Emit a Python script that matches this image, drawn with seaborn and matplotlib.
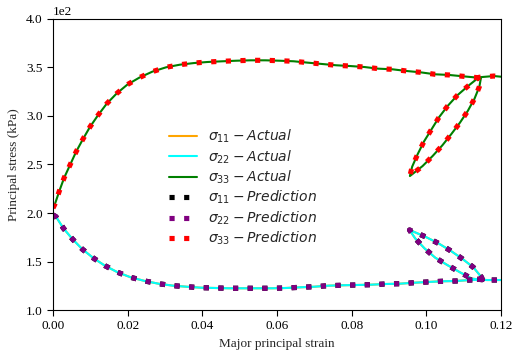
import numpy as np
import pandas as pd
import seaborn as sns
import matplotlib
matplotlib.use("Agg")
import matplotlib.pyplot as plt

# Major principal strain at which sigma_33 was recorded (loading, unload/reload loop, final loading)
strain_33 = [0.0000, 0.0005, 0.0017, 0.0030, 0.0046, 0.0062, 0.0080, 0.0099, 0.0121, 0.0144,
             0.0170, 0.0199, 0.0231, 0.0266, 0.0303, 0.0340, 0.0378, 0.0415, 0.0454, 0.0492,
             0.0530, 0.0569, 0.0606, 0.0645, 0.0682, 0.0721, 0.0758, 0.0796, 0.0834, 0.0871,
             0.0910, 0.0947, 0.0985, 0.1023, 0.1061, 0.1099, 0.1138, 0.1146,
             0.1142, 0.1129, 0.1111, 0.1090, 0.1067, 0.1043, 0.1017, 0.0990, 0.0956,
             0.0962, 0.0977, 0.0994, 0.1014, 0.1034, 0.1057, 0.1083, 0.1112, 0.1141,
             0.1181, 0.1200]
sigma_33 = [205.0, 209.0, 222.7, 236.4, 249.8, 263.2, 276.0, 288.7, 301.0, 312.7,
            323.0, 332.3, 339.5, 345.7, 350.2, 352.9, 354.6, 355.7, 356.4, 357.0,
            357.4, 357.4, 357.0, 356.4, 355.0, 353.6, 352.3, 351.5, 350.5, 348.8,
            348.1, 346.4, 345.0, 343.0, 342.3, 340.9, 339.5, 338.6,
            330.2, 317.8, 305.2, 293.1, 281.4, 269.8, 258.8, 248.4, 238.1,
            247.7, 260.8, 273.9, 286.3, 298.7, 310.3, 321.3, 331.0, 339.9,
            341.2, 340.5]

# Major principal strain at which sigma_22 was recorded
strain_22 = [0.0000, 0.0008, 0.0028, 0.0052, 0.0078, 0.0108, 0.0139, 0.0173, 0.0208, 0.0246,
             0.0283, 0.0321, 0.0358, 0.0396, 0.0434, 0.0472, 0.0511, 0.0548, 0.0587, 0.0624,
             0.0662, 0.0700, 0.0738, 0.0776, 0.0814, 0.0852, 0.0890, 0.0928, 0.0966, 0.1004,
             0.1042, 0.1080, 0.1117, 0.1150,
             0.1148, 0.1126, 0.1097, 0.1065, 0.1032, 0.0997, 0.0955,
             0.0970, 0.0995, 0.1024, 0.1056, 0.1090, 0.1122, 0.1146,
             0.1162, 0.1200]
sigma_22 = [198.0, 196.2, 184.2, 173.2, 162.9, 153.6, 145.7, 138.9, 133.7, 129.9,
            127.1, 125.1, 124.0, 123.0, 122.7, 122.4, 122.4, 122.4, 122.4, 122.7,
            123.4, 124.0, 125.1, 125.5, 125.8, 126.1, 126.8, 127.1, 128.1, 128.9,
            129.6, 129.9, 130.9, 131.3,
            133.7, 144.0, 152.6, 161.1, 168.8, 175.6, 182.5,
            173.9, 163.6, 153.9, 146.4, 138.9, 132.3, 131.4,
            130.9, 130.9]

# Axisymmetric loading: the two minor principal stresses coincide
strain_11 = strain_22
sigma_11 = sigma_22

series = [
    (r"$\sigma_{11}-Actual$", strain_11, sigma_11, "orange", "solid"),
    (r"$\sigma_{22}-Actual$", strain_22, sigma_22, "cyan", "solid"),
    (r"$\sigma_{33}-Actual$", strain_33, sigma_33, "green", "solid"),
    (r"$\sigma_{11}-Prediction$", strain_11, sigma_11, "black", "dotted"),
    (r"$\sigma_{22}-Prediction$", strain_22, sigma_22, "purple", "dotted"),
    (r"$\sigma_{33}-Prediction$", strain_33, sigma_33, "red", "dotted"),
]

sns.set_style("ticks")
plt.rcParams["font.family"] = ["Liberation Serif", "DejaVu Serif"]
plt.rcParams["mathtext.fontset"] = "dejavusans"

fig = plt.figure(figsize=(5.14, 3.53), dpi=100)
ax = fig.add_axes([0.1031, 0.1218, 0.8716, 0.8244])

for label, xs, ys, color, kind in series:
    df = pd.DataFrame({"strain": xs, "stress": ys})
    if kind == "solid":
        sns.lineplot(data=df, x="strain", y="stress", sort=False, estimator=None,
                     color=color, linewidth=1.5, label=label, ax=ax)
    else:
        sns.lineplot(data=df, x="strain", y="stress", sort=False, estimator=None,
                     color=color, linewidth=3.7, linestyle=(0, (1, 1.85)),
                     label=label, ax=ax)

ax.set_xlim(0, 0.12)
ax.set_ylim(100, 400)
ax.set_xticks(np.arange(0, 0.1201, 0.02))
ax.set_yticks(np.arange(100, 401, 50))
ax.xaxis.set_major_formatter(matplotlib.ticker.FormatStrFormatter("%.2f"))
ax.ticklabel_format(axis="y", style="sci", scilimits=(0, 0))
ax.tick_params(labelsize=9.5, direction="out", length=4, width=0.8, colors="black")
ax.yaxis.get_offset_text().set_fontsize(9.5)
for sp in ax.spines.values():
    sp.set_linewidth(0.8)
    sp.set_color("black")

ax.set_xlabel("Major principal strain", fontsize=9.5)
ax.set_ylabel("Principal stress (kPa)", fontsize=9.5)

leg = ax.legend(loc="center", bbox_to_anchor=(0.425, 0.421), frameon=False,
                fontsize=10, labelspacing=0.22, handlelength=2.0)

fig.savefig("out.png", dpi=100)
